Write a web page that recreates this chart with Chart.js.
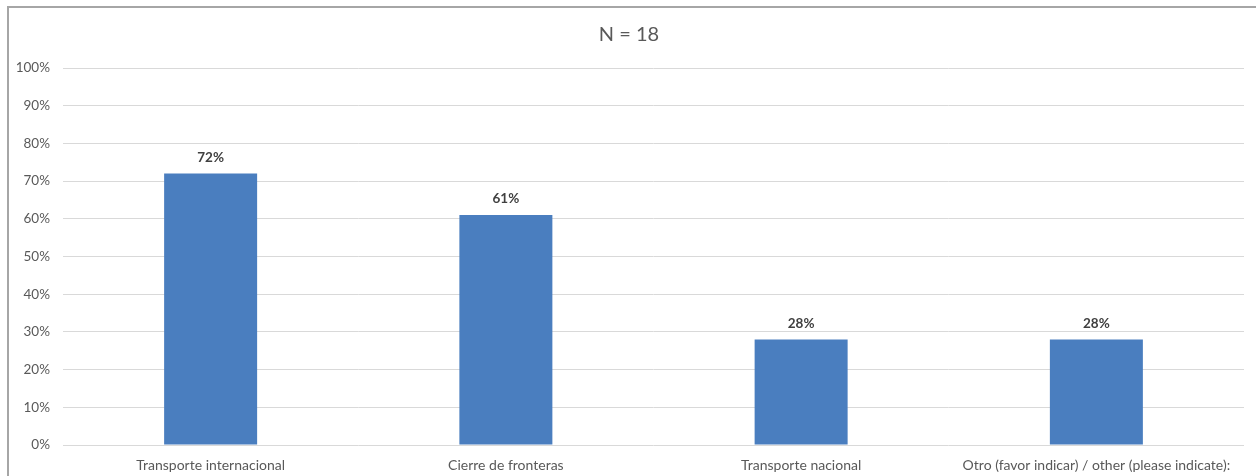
<!DOCTYPE html>
<html>
<head>
<meta charset="utf-8">
<script src="https://cdn.jsdelivr.net/npm/chart.js@4/dist/chart.umd.min.js"></script>
<style>
  html, body { margin: 0; padding: 0; background: #ffffff; overflow: hidden; }
  #wrap { position: relative; width: 1256px; height: 476px; }
  #frame { position: absolute; left: 7px; top: 6px; width: 1260px; height: 480px;
           border-left: 2px solid #a6a6a6; border-top: 2px solid #a6a6a6; box-sizing: border-box; pointer-events: none; }
  canvas { position: absolute; left: 0; top: 0; }
</style>
</head>
<body>
<div id="wrap">
  <canvas id="c" width="1256" height="476"></canvas>
  <div id="frame"></div>
</div>
<script>
const categories = [
  'Transporte internacional',
  'Cierre de fronteras',
  'Transporte nacional',
  'Otro (favor indicar) / other (please indicate):'
];
const percentages = [72, 61, 28, 28];
const yTicks = [0, 10, 20, 30, 40, 50, 60, 70, 80, 90, 100];
const chartTitle = 'N = 18';

const FONT = 'Lato, "Open Sans", "Liberation Sans", sans-serif';
const TEXT = '#595959';

// Writes each bar's percentage just above it
const valueLabels = {
  id: 'valueLabels',
  afterDatasetsDraw(chart) {
    const ctx = chart.ctx;
    const meta = chart.getDatasetMeta(0);
    ctx.save();
    ctx.font = 'bold 13.5px ' + FONT;
    ctx.fillStyle = '#404040';
    ctx.textAlign = 'center';
    ctx.textBaseline = 'middle';
    meta.data.forEach((bar, i) => {
      ctx.fillText(percentages[i] + '%', bar.x, bar.y - 16);
    });
    ctx.restore();
  }
};

new Chart(document.getElementById('c'), {
  type: 'bar',
  data: {
    labels: categories,
    datasets: [{
      data: percentages,
      backgroundColor: '#4a7ebf',
      borderWidth: 0,
      categoryPercentage: 1,
      barPercentage: 0.315
    }]
  },
  options: {
    responsive: false,
    animation: false,
    devicePixelRatio: 1,
    layout: { padding: { left: 14, right: 12, top: 0, bottom: 0 } },
    plugins: {
      legend: { display: false },
      tooltip: { enabled: false },
      title: {
        display: true,
        text: chartTitle,
        color: TEXT,
        font: { family: FONT, size: 20, weight: 'normal' },
        padding: { top: 23, bottom: 21 }
      }
    },
    scales: {
      x: {
        grid: { display: false, drawTicks: false },
        border: { display: false },
        ticks: { color: TEXT, font: { family: FONT, size: 14 }, padding: 12, maxRotation: 0, autoSkip: false },
        afterFit(scale) { scale.height = 31; }
      },
      y: {
        min: 0,
        max: 100,
        afterBuildTicks(scale) { scale.ticks = yTicks.map(v => ({ value: v })); },
        grid: { color: '#d9d9d9', lineWidth: 1, drawTicks: false },
        border: { display: false },
        ticks: {
          color: TEXT,
          font: { family: FONT, size: 13.5 },
          padding: 13,
          callback: v => v + '%'
        },
        afterFit(scale) { scale.width = 49; }
      }
    }
  },
  plugins: [valueLabels]
});
</script>
</body>
</html>
